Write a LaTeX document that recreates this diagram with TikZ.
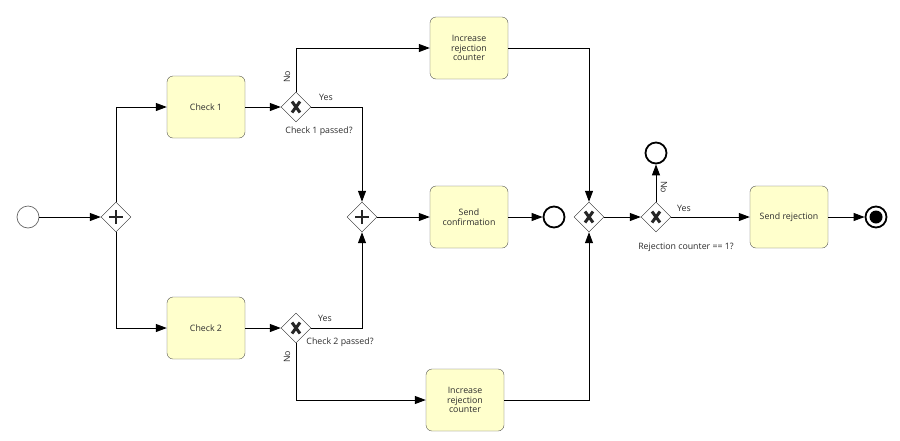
\documentclass[tikz,border=0pt]{standalone}
\usepackage{fontspec}
\setmainfont{Open Sans}
\usetikzlibrary{arrows.meta,shapes.geometric}

\definecolor{taskfill}{RGB}{255,255,204}
\definecolor{taskline}{RGB}{85,85,85}
\definecolor{labeltext}{RGB}{45,45,45}

\tikzset{
	task/.style={draw=taskline, fill=taskfill, rounded corners=6pt, minimum width=78pt, minimum height=62pt, align=center, font=\fontsize{8.8}{9.8}\selectfont, text=labeltext},
	gate/.style={draw=black!85, fill=white, diamond, minimum size=30pt, inner sep=0pt},
	gateX/.style={gate, path picture={
		\draw[line width=3pt] ([shift={(-4pt,-5.5pt)}]path picture bounding box.center) -- ([shift={(4pt,5.5pt)}]path picture bounding box.center);
		\draw[line width=3pt] ([shift={(-4pt,5.5pt)}]path picture bounding box.center) -- ([shift={(4pt,-5.5pt)}]path picture bounding box.center);}},
	gatePlus/.style={gate, path picture={
		\draw[line width=1.8pt] ([shift={(-7pt,0pt)}]path picture bounding box.center) -- ([shift={(7pt,0pt)}]path picture bounding box.center);
		\draw[line width=1.8pt] ([shift={(0pt,-7pt)}]path picture bounding box.center) -- ([shift={(0pt,7pt)}]path picture bounding box.center);}},
	startev/.style={circle, draw=black!60, line width=0.7pt, fill=white, minimum size=22pt, inner sep=0pt},
	endev/.style={circle, draw=black, line width=1.8pt, fill=white, minimum size=21pt, inner sep=0pt},
	termev/.style={endev, path picture={\fill[black] (path picture bounding box.center) circle (6.5pt);}},
	flow/.style={draw=black, line width=1pt, -{Triangle[length=11pt,width=8pt]}},
	lbl/.style={font=\fontsize{8.8}{9.8}\selectfont, text=labeltext, inner sep=1pt}
}

\begin{document}
\begin{tikzpicture}[x=1pt, y=-1pt]
	\useasboundingbox[fill=white] (0,0) rectangle (900,440);

	% events and gateways
	\node[startev] (start) at (28,217) {};
	\node[gatePlus] (split) at (116,217) {};
	\node[gatePlus] (join) at (362,217) {};
	\node[gateX] (gate1) at (296,107) {};
	\node[gateX] (gate2) at (296,328) {};
	\node[gateX] (merge) at (589,217) {};
	\node[gateX] (gate3) at (656,217) {};
	\node[endev] (endok) at (554,217) {};
	\node[endev] (endno) at (656,153) {};
	\node[termev] (endrej) at (876,217) {};

	% tasks
	\node[task] (check1) at (206,107) {Check 1};
	\node[task] (check2) at (206,328) {Check 2};
	\node[task] (incup) at (469,48) {Increase\\rejection\\counter};
	\node[task] (incdown) at (465,400) {Increase\\rejection\\counter};
	\node[task] (confirm) at (469,217) {Send\\confirmation};
	\node[task] (reject) at (789,217) {Send rejection};

	% flows
	\draw[flow] (start) -- (split);
	\draw[flow] (split) |- (check1);
	\draw[flow] (split) |- (check2);
	\draw[flow] (check1) -- (gate1);
	\draw[flow] (check2) -- (gate2);
	\draw[flow] (gate1) |- (incup);
	\draw[flow] (gate2) |- (incdown);
	\draw[flow] (gate1) -| (join);
	\draw[flow] (gate2) -| (join);
	\draw[flow] (join) -- (confirm);
	\draw[flow] (confirm) -- (endok);
	\draw[flow] (incup) -| (merge);
	\draw[flow] (incdown) -| (merge);
	\draw[flow] (merge) -- (gate3);
	\draw[flow] (gate3) -- (endno);
	\draw[flow] (gate3) -- (reject);
	\draw[flow] (reject) -- (endrej);

	% labels
	\node[lbl, rotate=90] (no1) at (287,77) {No};
	\node[lbl] (yes1) at (326,97) {Yes};
	\node[lbl] (q1) at (319,131) {Check 1 passed?};
	\node[lbl, rotate=90] (no2) at (287,357) {No};
	\node[lbl] (yes2) at (325,318) {Yes};
	\node[lbl] (q2) at (340,342) {Check 2 passed?};
	\node[lbl, rotate=-90] (no3) at (664,187) {No};
	\node[lbl] (yes3) at (684,208) {Yes};
	\node[lbl] (q3) at (686,247) {Rejection counter == 1?};
\end{tikzpicture}
\end{document}
